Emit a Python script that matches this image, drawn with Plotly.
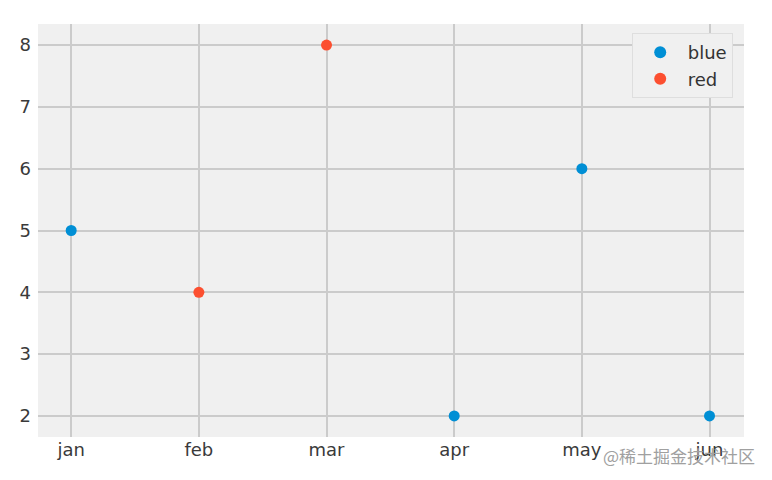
import plotly.graph_objects as go

months = ["jan", "feb", "mar", "apr", "may", "jun"]
blue_x = ["jan", "apr", "may", "jun"]
blue_y = [5, 2, 6, 2]
red_x = ["feb", "mar"]
red_y = [4, 8]
y_ticks = [2, 3, 4, 5, 6, 7, 8]

idx = {m: i for i, m in enumerate(months)}

fig = go.Figure()
fig.add_trace(go.Scatter(x=[idx[m] for m in blue_x], y=blue_y, mode="markers", name="blue",
                         marker=dict(color="#008fd5", size=11)))
fig.add_trace(go.Scatter(x=[idx[m] for m in red_x], y=red_y, mode="markers", name="red",
                         marker=dict(color="#fc4f30", size=11)))

font = dict(family="DejaVu Sans", size=18, color="#3a3a3a")
fig.update_layout(
    width=764, height=472,
    margin=dict(l=27, r=28, t=16, b=43),
    paper_bgcolor="white", plot_bgcolor="#f0f0f0",
    font=font,
    showlegend=True,
    legend=dict(x=0.984, y=0.978, xanchor="right", yanchor="top",
                bgcolor="#f0f0f0", bordercolor="#dedede", borderwidth=1,
                font=dict(family="DejaVu Sans", size=18, color="#333333"),
                itemsizing="constant", itemwidth=45),
    xaxis=dict(range=[-0.26, 5.27], tickmode="array", tickvals=list(range(len(months))),
               ticktext=months, showgrid=True, gridcolor="#cbcbcb", gridwidth=1.5,
               zeroline=False, showline=False, ticks="", ticklen=0, tickfont=font),
    yaxis=dict(range=[1.66, 8.34], tickmode="array", tickvals=y_ticks,
               showgrid=True, gridcolor="#cbcbcb", gridwidth=1.5,
               zeroline=False, showline=False, ticks="", tickfont=font,
               ticklabelstandoff=6),
)
fig.add_annotation(text="@稀土掘金技术社区", xref="paper", yref="paper",
                   x=1.018, y=-18 / 413, xanchor="right", yanchor="middle", showarrow=False,
                   font=dict(family="Noto Sans CJK SC", size=17, color="#a0a0a0"))
fig.write_html("out.html")
